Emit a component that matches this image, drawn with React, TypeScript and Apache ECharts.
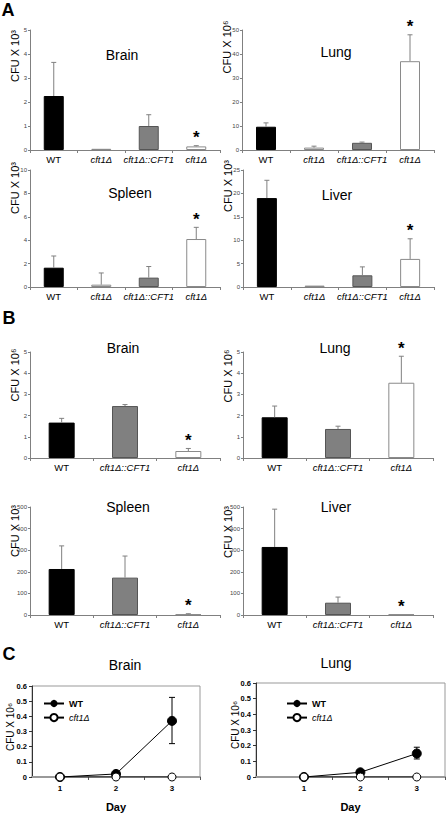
import React, { useEffect, useRef } from 'react';
import * as echarts from 'echarts';

const FONT = "'Liberation Sans', Arial, sans-serif";

// ---------- categories ----------
const catsA = ['WT', 'cft1Δ', 'cft1Δ::CFT1', 'cft1Δ'];
const catsB = ['WT', 'cft1Δ::CFT1', 'cft1Δ'];

// ---------- panel A ----------
const aBrainMean = [2.25, 0.05, 1.0, 0.15];
const aBrainErr = [3.65, 0.05, 1.47, 0.18];
const aBrainSig = [0, 0, 0, 1];
const aLungMean = [9.7, 1.0, 3.0, 37];
const aLungErr = [11.3, 1.6, 3.3, 48];
const aLungSig = [0, 0, 0, 1];
const aSpleenMean = [1.65, 0.2, 0.8, 4.1];
const aSpleenErr = [2.65, 1.2, 1.75, 5.1];
const aSpleenSig = [0, 0, 0, 1];
const aLiverMean = [19, 0.3, 2.5, 6.0];
const aLiverErr = [22.8, 0.3, 4.3, 10.3];
const aLiverSig = [0, 0, 0, 1];

// ---------- panel B ----------
const bBrainMean = [1.67, 2.45, 0.33];
const bBrainErr = [1.87, 2.52, 0.45];
const bLungMean = [1.92, 1.37, 3.55];
const bLungErr = [2.45, 1.5, 4.8];
const bSpleenMean = [213, 173, 3];
const bSpleenErr = [320, 273, 6];
const bLiverMean = [315, 57, 3];
const bLiverErr = [490, 83, 3];
const bSig = [0, 0, 1];

// ---------- panel C ----------
const days = [1, 2, 3];
const cBrainWT = [0, 0.02, 0.37];
const cBrainWTLow = [0, 0.02, 0.22];
const cBrainWTHigh = [0, 0.02, 0.525];
const cBrainMut = [0, 0, 0];
const cLungWT = [0, 0.03, 0.15];
const cLungWTLow = [0, 0.03, 0.115];
const cLungWTHigh = [0, 0.03, 0.19];
const cLungMut = [0, 0, 0];

// tick maxima / intervals
const yMaxA = [5, 50, 10, 25];
const yIntA = [1, 10, 2, 5];
const yMaxB = [5, 5, 500, 500];
const yIntB = [1, 1, 100, 100];

const barStyle = (cat: string) => {
  if (cat === 'WT') return { color: '#000', borderColor: '#000', borderWidth: 1 };
  if (cat === 'cft1Δ::CFT1') return { color: '#808080', borderColor: '#555', borderWidth: 1 };
  return { color: '#fff', borderColor: '#8a8a8a', borderWidth: 1 };
};

const errRender = (params: any, api: any) => {
  const x = api.value(0);
  const v = api.value(1);
  const e = api.value(2);
  const s = api.value(3);
  const p0 = api.coord([x, v]);
  const p1 = api.coord([x, e]);
  const children: any[] = [];
  if (e > v) {
    children.push({ type: 'line', shape: { x1: p0[0], y1: p0[1], x2: p1[0], y2: p1[1] }, style: { stroke: '#808080', lineWidth: 1 } });
    children.push({ type: 'line', shape: { x1: p1[0] - 2.5, y1: p1[1], x2: p1[0] + 2.5, y2: p1[1] }, style: { stroke: '#808080', lineWidth: 1 } });
  }
  if (s) {
    children.push({
      type: 'text', x: p1[0], y: p1[1] - 8,
      style: { text: '*', fontSize: 17, fontWeight: 'bold', fill: '#000', align: 'center', verticalAlign: 'middle', fontFamily: FONT },
    });
  }
  return { type: 'group', children };
};

const errRenderC = (params: any, api: any) => {
  const x = api.value(0);
  const lo = api.value(1);
  const hi = api.value(2);
  if (!(hi > lo)) return { type: 'group', children: [] };
  const p0 = api.coord([x, lo]);
  const p1 = api.coord([x, hi]);
  const st = { stroke: '#000', lineWidth: 1 };
  return {
    type: 'group',
    children: [
      { type: 'line', shape: { x1: p0[0], y1: p0[1], x2: p1[0], y2: p1[1] }, style: st },
      { type: 'line', shape: { x1: p0[0] - 3, y1: p0[1], x2: p0[0] + 3, y2: p0[1] }, style: st },
      { type: 'line', shape: { x1: p1[0] - 3, y1: p1[1], x2: p1[0] + 3, y2: p1[1] }, style: st },
    ],
  };
};

export default function App() {
  const ref = useRef<HTMLDivElement>(null);

  useEffect(() => {
    document.body.style.margin = '0';
    const chart = echarts.init(ref.current!, null, { renderer: 'svg' });

    const barPanels = [
      { grid: { left: 30, top: 30, width: 190, height: 120 }, cats: catsA, mean: aBrainMean, err: aBrainErr, sig: aBrainSig, max: yMaxA[0], interval: yIntA[0], bw: 20 },
      { grid: { left: 242, top: 30, width: 192, height: 120 }, cats: catsA, mean: aLungMean, err: aLungErr, sig: aLungSig, max: yMaxA[1], interval: yIntA[1], bw: 20 },
      { grid: { left: 30, top: 170, width: 190, height: 117 }, cats: catsA, mean: aSpleenMean, err: aSpleenErr, sig: aSpleenSig, max: yMaxA[2], interval: yIntA[2], bw: 20 },
      { grid: { left: 243, top: 170, width: 191, height: 117 }, cats: catsA, mean: aLiverMean, err: aLiverErr, sig: aLiverSig, max: yMaxA[3], interval: yIntA[3], bw: 20 },
      { grid: { left: 30, top: 352, width: 190, height: 106 }, cats: catsB, mean: bBrainMean, err: bBrainErr, sig: bSig, max: yMaxB[0], interval: yIntB[0], bw: 26 },
      { grid: { left: 243, top: 352, width: 190, height: 106 }, cats: catsB, mean: bLungMean, err: bLungErr, sig: bSig, max: yMaxB[1], interval: yIntB[1], bw: 26 },
      { grid: { left: 30, top: 507, width: 190, height: 108 }, cats: catsB, mean: bSpleenMean, err: bSpleenErr, sig: bSig, max: yMaxB[2], interval: yIntB[2], bw: 26 },
      { grid: { left: 243, top: 507, width: 190, height: 108 }, cats: catsB, mean: bLiverMean, err: bLiverErr, sig: bSig, max: yMaxB[3], interval: yIntB[3], bw: 26 },
    ];

    const linePanels = [
      { grid: { left: 32, top: 686, width: 168, height: 91 }, xmin: 0.5, wt: cBrainWT, lo: cBrainWTLow, hi: cBrainWTHigh, mut: cBrainMut },
      { grid: { left: 256, top: 683, width: 189, height: 94 }, xmin: 0.15, wt: cLungWT, lo: cLungWTLow, hi: cLungWTHigh, mut: cLungMut },
    ];

    const grids: any[] = [];
    const xAxes: any[] = [];
    const yAxes: any[] = [];
    const series: any[] = [];

    barPanels.forEach((p, i) => {
      grids.push({ ...p.grid, containLabel: false });
      xAxes.push({
        type: 'category', gridIndex: i, data: p.cats,
        axisLine: { lineStyle: { color: '#808080', width: 1 } },
        axisTick: { show: true, length: 3, lineStyle: { color: '#808080' } },
        axisLabel: {
          interval: 0, margin: 4, fontSize: 9.5, color: '#000', fontFamily: FONT,
          formatter: (v: string) => (v === 'WT' ? v : '{i|' + v + '}'),
          rich: { i: { fontStyle: 'italic', fontSize: 9.5, color: '#000', fontFamily: FONT } },
        },
        splitLine: { show: false },
      });
      yAxes.push({
        type: 'value', gridIndex: i, min: 0, max: p.max, interval: p.interval,
        axisLine: { show: true, lineStyle: { color: '#808080', width: 1 } },
        axisTick: { show: true, length: 2, lineStyle: { color: '#808080' } },
        axisLabel: { fontSize: 6, color: '#444', margin: 3, fontFamily: FONT },
        splitLine: { show: false },
      });
      series.push({
        type: 'bar', xAxisIndex: i, yAxisIndex: i, barWidth: p.bw, silent: true,
        data: p.mean.map((v, j) => ({ value: v, itemStyle: barStyle(p.cats[j]) })),
      });
      series.push({
        type: 'custom', xAxisIndex: i, yAxisIndex: i, silent: true, z: 5, clip: false,
        data: p.mean.map((v, j) => [j, v, p.err[j], p.sig[j]]),
        renderItem: errRender,
      });
    });

    linePanels.forEach((p, k) => {
      const i = barPanels.length + k;
      grids.push({ ...p.grid, show: true, borderColor: '#999', borderWidth: 1, containLabel: false });
      xAxes.push({
        type: 'value', gridIndex: i, min: p.xmin, max: 3.5,
        axisLine: { lineStyle: { color: '#999', width: 2 } },
        axisTick: { show: true, length: 3, customValues: [1.5, 2.5, 3.5], lineStyle: { color: '#555' } },
        axisLabel: { customValues: days, fontSize: 8, fontWeight: 'bold', color: '#000', margin: 7, fontFamily: FONT },
        splitLine: { show: false },
        name: 'Day', nameLocation: 'middle', nameGap: 24,
        nameTextStyle: { fontSize: 11, fontWeight: 'bold', color: '#000', fontFamily: FONT },
      });
      yAxes.push({
        type: 'value', gridIndex: i, min: 0, max: 0.6, interval: 0.1,
        axisLine: { show: true, lineStyle: { color: '#333', width: 1 } },
        axisTick: { show: true, length: 3, lineStyle: { color: '#333' } },
        axisLabel: { fontSize: 7.5, fontWeight: 'bold', color: '#000', margin: 5, fontFamily: FONT },
        splitLine: { show: false },
      });
      series.push({
        type: 'line', name: 'WT', xAxisIndex: i, yAxisIndex: i, silent: true, z: 3,
        data: days.map((d, j) => [d, p.wt[j]]),
        symbol: 'circle', symbolSize: 9,
        lineStyle: { color: '#000', width: 1 },
        itemStyle: { color: '#000', borderColor: '#000' },
      });
      series.push({
        type: 'line', name: 'cft1Δ', xAxisIndex: i, yAxisIndex: i, silent: true, z: 4,
        data: days.map((d, j) => [d, p.mut[j]]),
        symbol: 'circle', symbolSize: 8,
        lineStyle: { color: '#000', width: 1 },
        itemStyle: { color: '#fff', borderColor: '#000', borderWidth: 1 },
      });
      series.push({
        type: 'custom', xAxisIndex: i, yAxisIndex: i, silent: true, z: 5, clip: false,
        data: days.map((d, j) => [d, p.lo[j], p.hi[j]]),
        renderItem: errRenderC,
      });
    });

    const legendBase = {
      orient: 'vertical', itemWidth: 20, itemHeight: 9, itemGap: 5, selectedMode: false,
      textStyle: { fontSize: 9, color: '#000', fontFamily: FONT },
      data: [
        { name: 'WT', textStyle: { fontWeight: 'bold' } },
        { name: 'cft1Δ', textStyle: { fontStyle: 'italic' } },
      ],
    };

    const titles: [string, number, number][] = [
      ['Brain', 122, 55], ['Lung', 336, 52], ['Spleen', 130, 193], ['Liver', 337, 195],
      ['Brain', 123, 348], ['Lung', 335, 348], ['Spleen', 128, 507], ['Liver', 336, 507],
      ['Brain', 125, 665], ['Lung', 336, 663],
    ];
    const yLabels: [string, number, number, number][] = [
      ['CFU X 10³', 15, 56, 11], ['CFU X 10⁶', 227, 47, 11], ['CFU X 10³', 15, 188, 11], ['CFU X 10³', 228, 186, 11],
      ['CFU X 10⁶', 15, 375, 11], ['CFU X 10⁶', 228, 376, 11], ['CFU X 10³', 15, 531, 11], ['CFU X 10³', 228, 532, 11],
      ['CFU X 10⁶', 10, 727, 10], ['CFU X 10⁶', 235, 725, 10],
    ];
    const letters: [string, number, number][] = [['A', 8, 10], ['B', 9, 318], ['C', 9, 654]];

    const graphic: any[] = [
      ...titles.map(([t, x, y]) => ({
        type: 'text', x, y, silent: true,
        style: { text: t, fontSize: 14, fill: '#000', align: 'center', verticalAlign: 'middle', fontFamily: FONT },
      })),
      ...yLabels.map(([t, x, y, fs]) => ({
        type: 'text', x, y, rotation: Math.PI / 2, silent: true,
        style: { text: t, fontSize: fs, fill: '#000', align: 'center', verticalAlign: 'middle', fontFamily: FONT },
      })),
      ...letters.map(([t, x, y]) => ({
        type: 'text', x, y, silent: true,
        style: { text: t, fontSize: 18, fontWeight: 'bold', fill: '#000', align: 'center', verticalAlign: 'middle', fontFamily: FONT },
      })),
    ];

    chart.setOption({
      animation: false,
      backgroundColor: '#fff',
      textStyle: { fontFamily: FONT },
      grid: grids,
      xAxis: xAxes,
      yAxis: yAxes,
      series,
      legend: [
        { ...legendBase, left: 38, top: 694 },
        { ...legendBase, left: 281, top: 694 },
      ],
      graphic,
    });

    return () => chart.dispose();
  }, []);

  return <div ref={ref} style={{ width: 446, height: 813 }} />;
}
